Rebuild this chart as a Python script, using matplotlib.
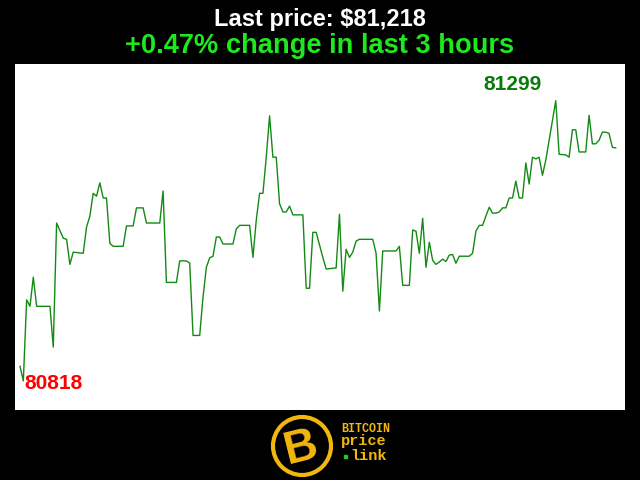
import matplotlib
matplotlib.use("Agg")
import matplotlib.pyplot as plt
from matplotlib.patches import Circle, Rectangle

# minute index (0..179) of each turning point, and the price there
minutes = [0, 1, 2, 3, 4, 5, 9, 10, 11, 13, 14, 15, 16, 19, 20, 21, 22, 23, 24, 25,
           26, 27, 28, 31, 32, 34, 35, 37, 38, 42, 43, 44, 47, 48, 50, 51, 52, 54, 55, 56,
           57, 58, 59, 60, 61, 64, 65, 66, 69, 70, 71, 72, 73, 74, 75, 76, 77, 78, 79, 80,
           81, 82, 85, 86, 87, 88, 89, 91, 92, 95, 96, 97, 98, 99, 100, 101, 102, 106, 107, 108,
           109, 113, 114, 115, 117, 118, 119, 120, 121, 122, 123, 124, 125, 126, 127, 128, 129, 130, 131, 132,
           135, 136, 137, 138, 139, 140, 141, 142, 143, 144, 145, 146, 147, 148, 149, 150, 151, 152, 153, 154,
           155, 156, 157, 158, 161, 162, 164, 165, 166, 167, 168, 170, 171, 172, 173, 174, 175, 176, 177, 178,
           179]
prices = [80843, 80818, 80957, 80946, 80996, 80946, 80946, 80876, 81089, 81063, 81061, 81018, 81039, 81037, 81082, 81101, 81140, 81135, 81158, 81132,
          81132, 81054, 81049, 81049, 81084, 81084, 81115, 81115, 81089, 81089, 81144, 80987, 80987, 81024, 81024, 81020, 80896, 80896, 80962, 81013,
          81029, 81032, 81065, 81065, 81053, 81053, 81079, 81085, 81085, 81030, 81094, 81140, 81140, 81202, 81273, 81202, 81202, 81122, 81108, 81108,
          81118, 81103, 81103, 80977, 80977, 81073, 81073, 81030, 81010, 81012, 81104, 80972, 81044, 81030, 81039, 81058, 81061, 81061, 81037, 80938,
          81041, 81041, 81049, 80982, 80982, 81077, 81075, 81037, 81097, 81013, 81056, 81025, 81018, 81022, 81027, 81023, 81034, 81035, 81020, 81032,
          81032, 81037, 81075, 81085, 81085, 81101, 81116, 81106, 81106, 81108, 81115, 81115, 81132, 81132, 81161, 81132, 81132, 81192, 81156, 81202,
          81199, 81202, 81171, 81197, 81299, 81207, 81206, 81202, 81249, 81249, 81211, 81211, 81274, 81225, 81225, 81231, 81245, 81245, 81243, 81219,
          81218]

last_price = "$81,218"
change = "+0.47%"
hours = 3

plt.rcParams['font.family'] = ['Liberation Sans', 'DejaVu Sans']

fig = plt.figure(figsize=(6.4, 4.8), dpi=100, facecolor='black')
ax = fig.add_axes([15/640, 70/480, 610/640, 346/480])
ax.set_facecolor('white')
ax.plot(minutes, prices, color='#138a13', lw=1.0)
ax.set_xlim(-1.5, 181.8)
ax.set_ylim(80768, 81362)
ax.set_xticks([])
ax.set_yticks([])
for s in ax.spines.values():
    s.set_visible(False)

lo = prices.index(min(prices))
hi = prices.index(max(prices))
ax.annotate(str(min(prices)), (minutes[lo], prices[lo]), xytext=(0.5, -2),
            textcoords='offset points', ha='left', va='center',
            color='#ff0000', fontsize=15, fontweight='bold')
ax.annotate(str(max(prices)), (minutes[hi], prices[hi]), xytext=(-31.5, 12),
            textcoords='offset points', ha='center', va='center',
            color='#0a7a0a', fontsize=15, fontweight='bold')

fig.text(0.5, 1 - 26/480, "Last price: " + last_price, ha='center', va='baseline',
         color='white', fontsize=17, fontweight='bold')
fig.text(0.5, 1 - 53/480, f"{change} change in last {hours} hours", ha='center',
         va='baseline', color='#1ee81e', fontsize=19.6, fontweight='bold')

# logo, drawn in pixel coordinates
lg = fig.add_axes([0, 0, 1, 1], facecolor='none')
lg.set_xlim(0, 640)
lg.set_ylim(480, 0)
lg.axis('off')
gold = '#f2b70f'
lg.add_patch(Circle((302, 446), 29, facecolor='black', edgecolor=gold, lw=3))
lg.text(301, 448, "B", ha='center', va='center', color=gold, fontsize=33,
        fontweight='bold', rotation=14)
mono = dict(ha='left', va='baseline', color=gold, family='Liberation Mono',
            fontweight='bold')
lg.text(341, 432, "BITCOIN", fontsize=8.5, **mono)
lg.text(341, 445, "price", fontsize=11, **mono)
lg.add_patch(Rectangle((343.5, 455), 3, 3, color='#22cc22'))
lg.text(350, 460, "link", fontsize=11, **mono)

fig.savefig('out.png', dpi=100, facecolor='black')
